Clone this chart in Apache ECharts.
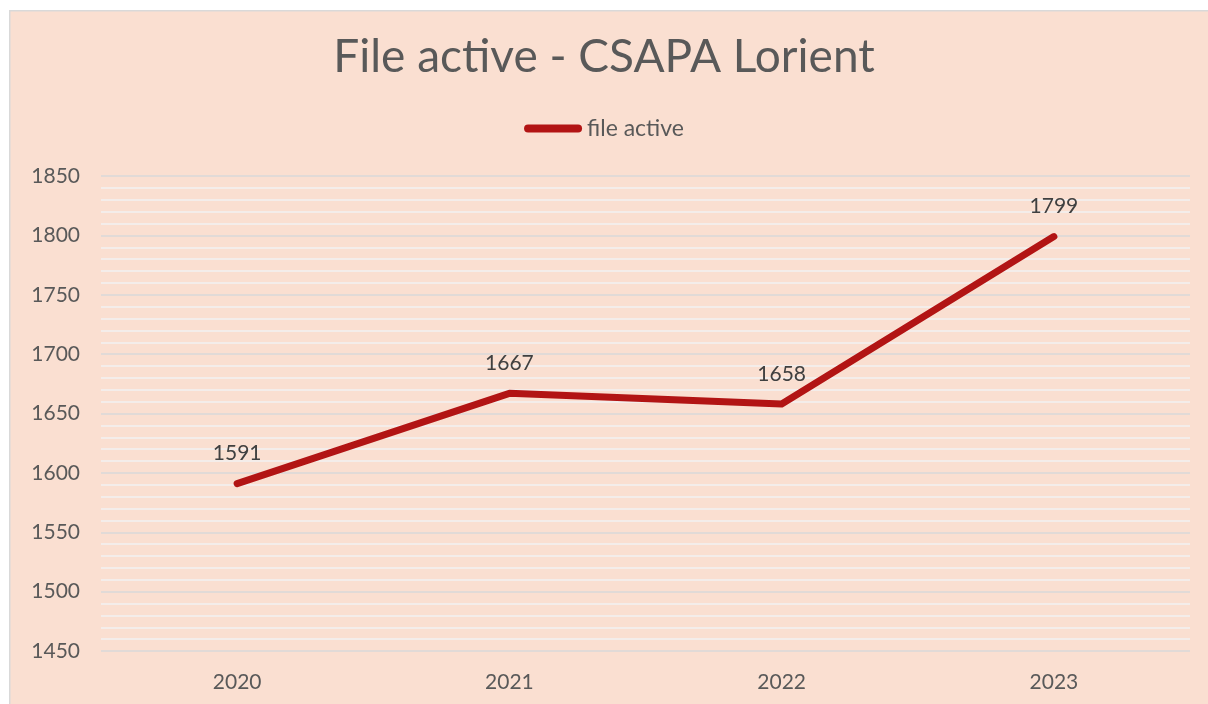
<!DOCTYPE html>
<html>
<head>
<meta charset="utf-8">
<script src="https://cdn.jsdelivr.net/npm/echarts@6/dist/echarts.min.js"></script>
<style>
  html, body { margin: 0; padding: 0; background: #ffffff; }
  #chart { width: 1208px; height: 704px; }
</style>
</head>
<body>
<div id="chart"></div>
<script>
// File active - CSAPA Lorient, 2020-2023
const years = ['2020', '2021', '2022', '2023'];
const fileActive = [1591, 1667, 1658, 1799];

const RED = '#B21414';
const TEXT = '#595959';
const FONT = 'Lato, "DejaVu Sans", sans-serif';

const chart = echarts.init(document.getElementById('chart'));
chart.setOption({
    animation: false,
    backgroundColor: '#ffffff',
    graphic: [{
        type: 'rect',
        left: 9, top: 10, z: -10,
        shape: { width: 1220, height: 720 },
        style: { fill: '#FADFD1', stroke: '#D9D9D9', lineWidth: 1.5 }
    }],
    title: {
        text: 'File active - CSAPA Lorient',
        left: 'center',
        top: 29,
        textStyle: { fontFamily: FONT, fontSize: 46, fontWeight: 'normal', color: TEXT }
    },
    legend: {
        top: 112,
        left: 'center',
        itemWidth: 58,
        itemHeight: 8,
        icon: 'path://M4,0 H54 A4,4 0 0 1 54,8 H4 A4,4 0 0 1 4,0 Z',
        textStyle: { fontFamily: FONT, fontSize: 23, color: TEXT }
    },
    grid: { left: 101, right: 18, top: 176, bottom: 53 },
    xAxis: {
        type: 'category',
        data: years,
        boundaryGap: true,
        axisLine: { show: false },
        axisTick: { show: false },
        axisLabel: { fontFamily: FONT, fontSize: 21, color: TEXT, margin: 21 }
    },
    yAxis: {
        type: 'value',
        min: 1450,
        max: 1850,
        interval: 50,
        axisLine: { show: false },
        axisTick: { show: false },
        axisLabel: { fontFamily: FONT, fontSize: 21, color: TEXT, margin: 21, formatter: v => String(v) },
        splitLine: { lineStyle: { color: '#D9D9D9', width: 1.5 } },
        minorTick: { show: false, splitNumber: 5 },
        minorSplitLine: { show: true, lineStyle: { color: '#F2F2F2', width: 1.5 } }
    },
    series: [{
        name: 'file active',
        type: 'line',
        data: fileActive,
        symbol: 'circle',
        symbolSize: 1,
        showSymbol: true,
        lineStyle: { color: RED, width: 7, cap: 'round', join: 'round' },
        itemStyle: { color: RED },
        label: {
            show: true,
            position: 'top',
            distance: 19,
            fontFamily: FONT,
            fontSize: 21,
            color: '#404040',
            formatter: p => String(p.value)
        }
    }]
});
</script>
</body>
</html>
